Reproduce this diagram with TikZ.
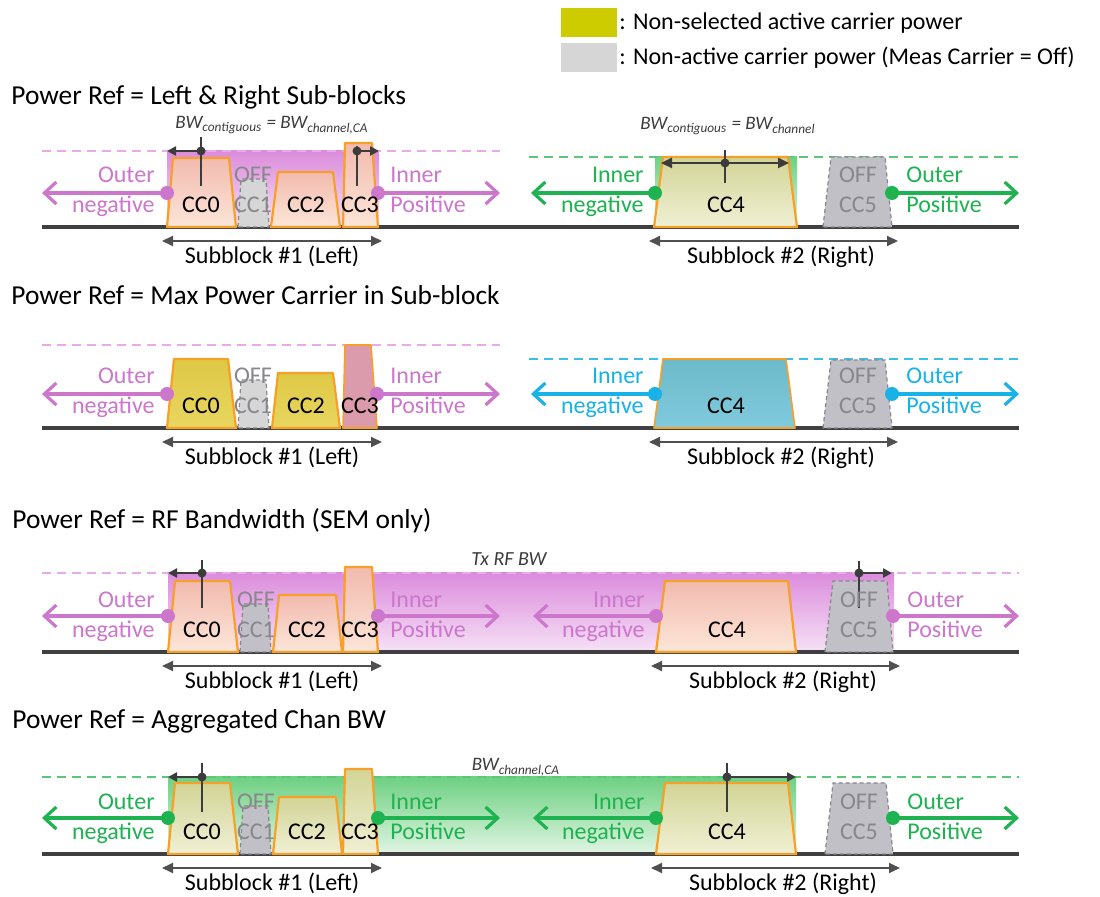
\documentclass[tikz,border=0pt]{standalone}
\usepackage{fontspec}
\setmainfont{Carlito}
\usetikzlibrary{arrows.meta}
\definecolor{pk}{RGB}{204,119,204}
\definecolor{pkdash}{RGB}{232,170,232}
\definecolor{pkA}{RGB}{220,140,220}
\definecolor{pkB}{RGB}{246,226,246}
\definecolor{gr}{RGB}{30,178,80}
\definecolor{grdash}{RGB}{90,200,120}
\definecolor{grA}{RGB}{110,208,130}
\definecolor{grB}{RGB}{225,245,228}
\definecolor{bl}{RGB}{25,178,232}
\definecolor{bldash}{RGB}{60,190,235}
\definecolor{org}{RGB}{247,160,40}
\definecolor{gnd}{RGB}{64,64,64}
\definecolor{offfill}{RGB}{192,192,198}
\definecolor{offtext}{RGB}{135,135,140}
\definecolor{legyel}{RGB}{204,204,0}
\definecolor{leggray}{RGB}{214,214,214}
\definecolor{mk}{RGB}{60,60,60}
\definecolor{salA}{RGB}{242,186,174}
\definecolor{salB}{RGB}{252,230,216}
\definecolor{khA}{RGB}{210,212,150}
\definecolor{khB}{RGB}{240,240,212}
\definecolor{yeA}{RGB}{222,200,70}
\definecolor{yeB}{RGB}{232,214,95}
\definecolor{teA}{RGB}{108,186,200}
\definecolor{teB}{RGB}{128,202,222}
\definecolor{cc3pk}{RGB}{220,155,172}
\newcommand{\cctrap}[6]{\path[#1] (#2,0) -- (#3,#6) -- (#4,#6) -- (#5,0) -- cycle;}
\newcommand{\sidearr}[5]{%
  \coordinate (#1t) at (#4,#5);
  \draw[sidearrow, #2] (#3,#5) -- (#1t);
  \node[dotc, fill=#2] (#1) at (#3,#5) {};}
\newcommand{\sidelbl}[6]{%
  \node[txt, anchor=base #2, text=#6] (#1a) at (#3,-44) {#4};
  \node[txt, anchor=base #2, text=#6] (#1b) at (#3,-14) {#5};}
\newcommand{\bwmark}[6]{%
  \draw[mkline] (#2,#3) -- (#2,#4);
  \node[mkdot] (#1) at (#2,#5) {};
  \coordinate (#1e) at (#6,#5);
  \draw[mkarrow] (#1) -- (#1e);}
\newcommand{\cclbl}[4]{\node[txt, anchor=base, text=#4] (#1) at (#2,-14) {#3};}
\newcommand{\offlbl}[3]{%
  \node[txt, anchor=base, text=offtext] (#1o) at (#2,-44) {OFF};
  \node[txt, anchor=base, text=offtext] (#1c) at (#2,-14) {#3};}
\newcommand{\subblk}[5]{%
  \coordinate (#1l) at (#2,14);
  \coordinate (#1r) at (#3,14);
  \draw[sbarrow] (#1l) -- (#1r);
  \node[txt, anchor=base] (#1t) at (#4,37) {#5};}
\begin{document}
\begin{tikzpicture}[x=0.5pt,y=-0.5pt,
  txt/.style={font=\fontsize{12}{14}\selectfont, inner sep=0pt},
  ttl/.style={font=\fontsize{13.7}{16}\selectfont, anchor=base west, inner sep=0pt},
  bwl/.style={font=\fontsize{9.5}{11}\selectfont\itshape, anchor=base, inner sep=0pt, text=mk},
  sidearrow/.style={line width=1.6pt, -{Straight Barb[length=6pt,width=11pt,line width=1.6pt]}},
  dotc/.style={circle, inner sep=0pt, minimum size=7pt},
  mkline/.style={draw=mk, line width=1.2pt},
  mkdot/.style={circle, fill=mk, inner sep=0pt, minimum size=4.5pt},
  mkarrow/.style={draw=mk, line width=1.2pt, -{Triangle[length=4.5pt,width=4.5pt]}, shorten <=-1pt},
  sbarrow/.style={draw=mk!90, line width=0.9pt, {Triangle[length=5.5pt,width=5pt]}-{Triangle[length=5.5pt,width=5pt]}},
  gline/.style={draw=gnd, line width=1.6pt},
  pkdashed/.style={draw=pkdash, line width=0.8pt, dash pattern=on 4.5pt off 3pt},
  grdashed/.style={draw=grdash, line width=0.8pt, dash pattern=on 4.5pt off 3pt},
  bldashed/.style={draw=bldash, line width=0.8pt, dash pattern=on 4.5pt off 3pt},
  cc/.style={draw=org, line width=1.1pt, line join=round},
  off/.style={draw=offtext, fill=offfill, line width=0.6pt, dash pattern=on 2pt off 1.5pt},
  sal/.style={cc, top color=salA, bottom color=salB},
  kha/.style={cc, top color=khA, bottom color=khB},
  yel/.style={cc, top color=yeA, bottom color=yeB},
  teal/.style={cc, line width=0.8pt, top color=teA, bottom color=teB},
  legbox/.style={minimum width=28pt, minimum height=14.5pt, inner sep=0pt, anchor=north west}
]
\useasboundingbox (0,0) rectangle (1100,897);
\fill[white] (0,0) rectangle (1100,897);

% legend
\node[legbox, fill=legyel] (legy) at (561,8) {};
\node[txt, anchor=west] (legyt) at (619,23) {: Non-selected active carrier power};
\node[legbox, fill=leggray] (legg) at (561,43) {};
\node[txt, anchor=west] (leggt) at (619,58) {: Non-active carrier power (Meas Carrier = Off)};

% titles
\node[ttl] (t1) at (11,105) {Power Ref = Left \& Right Sub-blocks};
\node[ttl] (t2) at (11,305) {Power Ref = Max Power Carrier in Sub-block};
\node[ttl] (t3) at (12,529) {Power Ref = RF Bandwidth (SEM only)};
\node[ttl] (t4) at (12,729) {Power Ref = Aggregated Chan BW};

% ---------------- panel 1
\begin{scope}[shift={(0,227)}]
\fill[top color=pkA, bottom color=pkB] (167,-76) rectangle (379,0);
\fill[top color=grA, bottom color=grB] (655,-70) rectangle (797,0);
\draw[pkdashed] (42,-76) -- (500,-76);
\draw[grdashed] (529,-70) -- (1019,-70);
\draw[gline] (42,0) -- (1019,0);
\cctrap{sal}{167}{173}{229}{236}{-69}
\cctrap{off, fill=leggray}{238}{241}{266}{269}{-48}
\cctrap{sal}{271}{278}{333}{340}{-55}
\cctrap{sal}{343}{345}{372}{378}{-84}
\cctrap{kha}{654}{663}{788}{797}{-70}
\cctrap{off}{823}{831}{885}{892}{-70}
\node[bwl] (bw1) at (272,-98) {BW\textsubscript{contiguous} = BW\textsubscript{channel,CA}};
\node[bwl] (bw2) at (728,-97) {BW\textsubscript{contiguous} = BW\textsubscript{channel}};
\bwmark{p1m1}{201}{-90}{-41}{-76}{167}
\bwmark{p1m2}{357}{-81}{-41}{-76}{379}
\coordinate (p1m3l) at (661,-64);
\coordinate (p1m3r) at (789,-64);
\draw[sbarrow, draw=mk, line width=1.2pt] (p1m3l) -- (p1m3r);
\draw[mkline] (725,-77) -- (725,-44);
\node[mkdot] (p1m3) at (725,-64) {};
\sidearr{p1a1}{pk}{167}{42}{-34}
\sidearr{p1a2}{pk}{378}{500}{-34}
\sidearr{p1a3}{gr}{655}{531}{-34}
\sidearr{p1a4}{gr}{892}{1019}{-34}
\sidelbl{p1l1}{east}{155}{Outer}{negative}{pk}
\sidelbl{p1l2}{west}{390}{Inner}{Positive}{pk}
\sidelbl{p1l3}{east}{644}{Inner}{negative}{gr}
\sidelbl{p1l4}{west}{906}{Outer}{Positive}{gr}
\cclbl{p1c0}{201}{CC0}{black}
\offlbl{p1c1}{253}{CC1}
\cclbl{p1c2}{306}{CC2}{black}
\cclbl{p1c3}{360}{CC3}{black}
\cclbl{p1c4}{726}{CC4}{black}
\offlbl{p1c5}{858}{CC5}
\subblk{p1s1}{162}{382}{272}{Subblock \#1 (Left)}
\subblk{p1s2}{649}{898}{781}{Subblock \#2 (Right)}
\end{scope}

% ---------------- panel 2
\begin{scope}[shift={(0,428)}]
\draw[pkdashed] (42,-83) -- (500,-83);
\draw[bldashed] (529,-69) -- (1019,-69);
\draw[gline] (42,0) -- (1019,0);
\cctrap{yel}{167}{174}{228}{236}{-69}
\cctrap{off, fill=leggray}{238}{241}{266}{269}{-48}
\cctrap{yel}{272}{278}{333}{340}{-55}
\cctrap{cc, line width=0.8pt, fill=cc3pk}{343}{345}{371}{377}{-83}
\cctrap{teal}{654}{663}{786}{795}{-69}
\cctrap{off}{823}{831}{885}{892}{-68}
\sidearr{p2a1}{pk}{167}{42}{-34}
\sidearr{p2a2}{pk}{377}{500}{-34}
\sidearr{p2a3}{bl}{655}{531}{-34}
\sidearr{p2a4}{bl}{892}{1019}{-34}
\sidelbl{p2l1}{east}{155}{Outer}{negative}{pk}
\sidelbl{p2l2}{west}{390}{Inner}{Positive}{pk}
\sidelbl{p2l3}{east}{644}{Inner}{negative}{bl}
\sidelbl{p2l4}{west}{906}{Outer}{Positive}{bl}
\cclbl{p2c0}{201}{CC0}{black}
\offlbl{p2c1}{253}{CC1}
\cclbl{p2c2}{306}{CC2}{black}
\cclbl{p2c3}{360}{CC3}{black}
\cclbl{p2c4}{726}{CC4}{black}
\offlbl{p2c5}{858}{CC5}
\subblk{p2s1}{162}{382}{272}{Subblock \#1 (Left)}
\subblk{p2s2}{649}{898}{781}{Subblock \#2 (Right)}
\end{scope}

% ---------------- panel 3
\begin{scope}[shift={(0,652)}]
\fill[top color=pkA, bottom color=pkB] (168,-79) rectangle (894,0);
\draw[pkdashed] (42,-79) -- (1019,-79);
\draw[gline] (42,0) -- (1019,0);
\cctrap{sal}{168}{175}{230}{238}{-71}
\cctrap{off}{240}{243}{268}{271}{-48}
\cctrap{sal}{273}{279}{336}{342}{-57}
\cctrap{sal}{343}{345}{372}{378}{-85}
\cctrap{sal}{656}{665}{788}{796}{-71}
\cctrap{off}{825}{833}{887}{893}{-71}
\node[bwl, font=\fontsize{10}{12}\selectfont\itshape] (bw3) at (509,-86) {Tx RF BW};
\bwmark{p3m1}{202}{-92}{-44}{-79}{168}
\bwmark{p3m2}{859}{-91}{-44}{-79}{892}
\sidearr{p3a1}{pk}{168}{42}{-36}
\sidearr{p3a2}{pk}{378}{500}{-36}
\sidearr{p3a3}{pk}{656}{533}{-36}
\sidearr{p3a4}{pk}{893}{1019}{-36}
\sidelbl{p3l1}{east}{155}{Outer}{negative}{pk}
\sidelbl{p3l2}{west}{390}{Inner}{Positive}{pk}
\sidelbl{p3l3}{east}{645}{Inner}{negative}{pk}
\sidelbl{p3l4}{west}{907}{Outer}{Positive}{pk}
\cclbl{p3c0}{202}{CC0}{black}
\offlbl{p3c1}{256}{CC1}
\cclbl{p3c2}{307}{CC2}{black}
\cclbl{p3c3}{360}{CC3}{black}
\cclbl{p3c4}{727}{CC4}{black}
\offlbl{p3c5}{859}{CC5}
\subblk{p3s1}{162}{382}{272}{Subblock \#1 (Left)}
\subblk{p3s2}{651}{900}{783}{Subblock \#2 (Right)}
\end{scope}

% ---------------- panel 4
\begin{scope}[shift={(0,854)}]
\fill[top color=grA, bottom color=grB] (168,-77) rectangle (796,0);
\draw[grdashed] (42,-77) -- (1019,-77);
\draw[gline] (42,0) -- (1019,0);
\cctrap{kha}{168}{175}{230}{238}{-71}
\cctrap{off}{240}{243}{268}{271}{-48}
\cctrap{kha}{273}{279}{336}{342}{-57}
\cctrap{kha}{343}{345}{372}{378}{-85}
\cctrap{kha}{656}{665}{788}{796}{-71}
\cctrap{off}{825}{833}{886}{893}{-71}
\node[bwl] (bw4) at (516,-83) {BW\textsubscript{channel,CA}};
\bwmark{p4m1}{202}{-91}{-42}{-77}{168}
\bwmark{p4m2}{727}{-91}{-42}{-77}{796}
\sidearr{p4a1}{gr}{168}{42}{-36}
\sidearr{p4a2}{gr}{378}{500}{-36}
\sidearr{p4a3}{gr}{656}{533}{-36}
\sidearr{p4a4}{gr}{893}{1019}{-36}
\sidelbl{p4l1}{east}{155}{Outer}{negative}{gr}
\sidelbl{p4l2}{west}{390}{Inner}{Positive}{gr}
\sidelbl{p4l3}{east}{645}{Inner}{negative}{gr}
\sidelbl{p4l4}{west}{907}{Outer}{Positive}{gr}
\cclbl{p4c0}{202}{CC0}{black}
\offlbl{p4c1}{256}{CC1}
\cclbl{p4c2}{307}{CC2}{black}
\cclbl{p4c3}{360}{CC3}{black}
\cclbl{p4c4}{727}{CC4}{black}
\offlbl{p4c5}{859}{CC5}
\subblk{p4s1}{162}{382}{272}{Subblock \#1 (Left)}
\subblk{p4s2}{651}{900}{783}{Subblock \#2 (Right)}
\end{scope}
\end{tikzpicture}
\end{document}
